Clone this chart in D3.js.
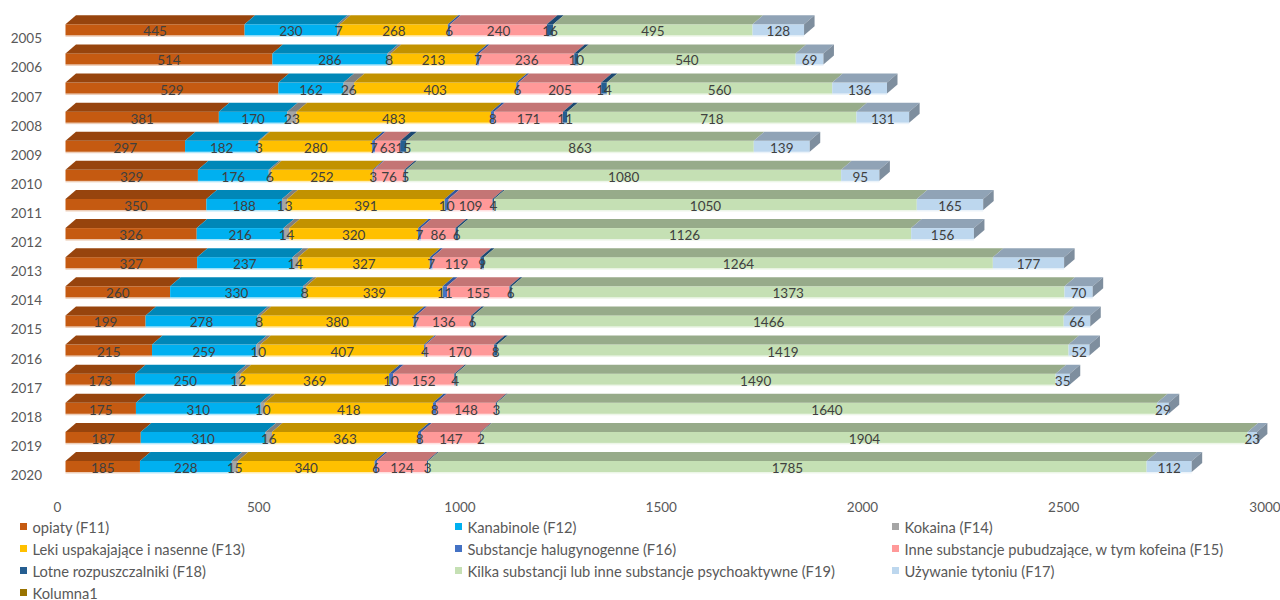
<!DOCTYPE html>
<html lang="pl">
<head>
<meta charset="utf-8">
<script src="https://cdn.jsdelivr.net/npm/d3@7"></script>
<style>
body { margin: 0; background: #fff; }
svg { display: block; font-family: Lato, "Open Sans", sans-serif; }
</style>
</head>
<body>
<svg id="chart" width="1280" height="600"></svg>
<script>
var years = ["2005", "2006", "2007", "2008", "2009", "2010", "2011", "2012",
             "2013", "2014", "2015", "2016", "2017", "2018", "2019", "2020"];

var opiaty      = [445, 514, 529, 381, 297, 329, 350, 326, 327, 260, 199, 215, 173, 175, 187, 185];
var kanabinole  = [230, 286, 162, 170, 182, 176, 188, 216, 237, 330, 278, 259, 250, 310, 310, 228];
var kokaina     = [7, 8, 26, 23, 3, 6, 13, 14, 14, 8, 8, 10, 12, 10, 16, 15];
var leki        = [268, 213, 403, 483, 280, 252, 391, 320, 327, 339, 380, 407, 369, 418, 363, 340];
var halucyno    = [6, 7, 6, 8, 7, 3, 10, 7, 7, 11, 7, 4, 10, 8, 8, 6];
var pobudzajace = [240, 236, 205, 171, 63, 76, 109, 86, 119, 155, 136, 170, 152, 148, 147, 124];
var lotne       = [16, 10, 14, 11, 15, 5, 4, 6, 9, 6, 6, 8, 4, 3, 2, 3];
var kilka       = [495, 540, 560, 718, 863, 1080, 1050, 1126, 1264, 1373, 1466, 1419, 1490, 1640, 1904, 1785];
var tyton       = [128, 69, 136, 131, 139, 95, 165, 156, 177, 70, 66, 52, 35, 29, 23, 112];

var xTicks = [0, 500, 1000, 1500, 2000, 2500, 3000];

// stacking order of the bars
var stackKeys = ["opiaty", "kanabinole", "kokaina", "leki", "halucyno", "pobudzajace", "lotne", "kilka", "tyton"];
var stackValues = [opiaty, kanabinole, kokaina, leki, halucyno, pobudzajace, lotne, kilka, tyton];

// legend order (as in the original)
var legendNames = ["opiaty (F11)", "Kanabinole (F12)", "Kokaina (F14)",
                   "Leki uspakajające i nasenne (F13)", "Substancje halugynogenne (F16)",
                   "Inne substancje pubudzające, w tym kofeina (F15)",
                   "Lotne rozpuszczalniki (F18)", "Kilka substancji lub inne substancje psychoaktywne (F19)",
                   "Używanie tytoniu (F17)", "Kolumna1"];
var legendKeys = ["opiaty", "kanabinole", "kokaina", "leki", "halucyno", "pobudzajace", "lotne", "kilka", "tyton", "kolumna1"];

var colors = {
    opiaty: "#C55A11", kanabinole: "#00B0F0", kokaina: "#A5A5A5", leki: "#FFC000",
    halucyno: "#4472C4", pobudzajace: "#FF9999", lotne: "#255E91", kilka: "#C5E0B4",
    tyton: "#BDD7EE", kolumna1: "#997300"
};
var topColors = {
    opiaty: "#97440D", kanabinole: "#0087B8", kokaina: "#7F7F7F", leki: "#C29200",
    halucyno: "#34579A", pobudzajace: "#C47575", lotne: "#1C4870", kilka: "#97AB8A",
    tyton: "#90A3B6"
};
var sideColor = "#7E8E9E";

var table = years.map(function (y, i) {
    var row = { year: y };
    stackKeys.forEach(function (k, j) { row[k] = stackValues[j][i]; });
    return row;
});
var series = d3.stack().keys(stackKeys)(table);

var svg = d3.select("#chart");
var dx = 10.5, dy = 9, barH = 11;

var x = d3.scaleLinear().domain([0, 3000]).range([65.5, 65.5 + 0.4025 * 3000]);
var y = d3.scalePoint().domain(years).range([24.3, 461]);

// year labels
svg.append("g").selectAll("text")
    .data(years)
    .join("text")
    .attr("x", 42)
    .attr("y", function (d) { return y(d) + 14; })
    .attr("text-anchor", "end")
    .attr("dominant-baseline", "central")
    .attr("fill", "#595959")
    .style("font-size", "13.5px")
    .text(function (d) { return d; });

// bars, row by row
var rows = svg.append("g");
years.forEach(function (yr, i) {
    var g = rows.append("g");
    var yt = y(yr);
    series.forEach(function (s, si) {
        var x0 = x(s[i][0]), x1 = x(s[i][1]);
        // faint bottom edge
        g.append("rect")
            .attr("x", x0).attr("y", yt + barH).attr("width", x1 - x0).attr("height", 1.5)
            .attr("fill", colors[s.key]).attr("opacity", 0.3);
        g.append("rect")
            .attr("x", x0).attr("y", yt).attr("width", x1 - x0).attr("height", barH)
            .attr("fill", colors[s.key]);
        g.append("path")
            .attr("d", "M" + x0 + "," + yt + "L" + x1 + "," + yt + "L" + (x1 + dx) + "," + (yt - dy) +
                "L" + (x0 + dx) + "," + (yt - dy) + "Z")
            .attr("fill", topColors[s.key]);
        if (si === series.length - 1) {
            g.append("path")
                .attr("d", "M" + x1 + "," + yt + "L" + (x1 + dx) + "," + (yt - dy) + "L" + (x1 + dx) + "," +
                    (yt - dy + barH) + "L" + x1 + "," + (yt + barH) + "Z")
                .attr("fill", sideColor);
        }
    });
    series.forEach(function (s) {
        var x0 = x(s[i][0]), x1 = x(s[i][1]);
        g.append("text")
            .attr("x", (x0 + x1) / 2)
            .attr("y", yt + barH / 2 + 1.5)
            .attr("text-anchor", "middle")
            .attr("dominant-baseline", "central")
            .attr("fill", "#404040")
            .style("font-size", "13.5px")
            .text(s[i].data[s.key]);
    });
});

// x axis (labels only)
var axis = svg.append("g")
    .attr("transform", "translate(-8.5,502)")
    .call(d3.axisBottom(x).tickValues(xTicks).tickSize(0).tickPadding(0).tickFormat(d3.format("d")));
axis.select(".domain").remove();
axis.selectAll("text")
    .attr("fill", "#595959")
    .attr("dy", "0.71em")
    .style("font-family", "Lato, sans-serif")
    .style("font-size", "13.5px");

// legend
var legend = svg.append("g").selectAll("g")
    .data(legendKeys)
    .join("g")
    .attr("transform", function (d, i) {
        return "translate(" + [20, 455, 892][i % 3] + "," + (527 + Math.floor(i / 3) * 22) + ")";
    });
legend.append("rect")
    .attr("x", 0).attr("y", -4).attr("width", 7).attr("height", 7)
    .attr("fill", function (d) { return colors[d]; });
legend.append("text")
    .attr("x", 12.5)
    .attr("y", 0)
    .attr("dominant-baseline", "central")
    .attr("fill", "#595959")
    .style("font-size", "14.7px")
    .text(function (d, i) { return legendNames[i]; });
</script>
</body>
</html>
